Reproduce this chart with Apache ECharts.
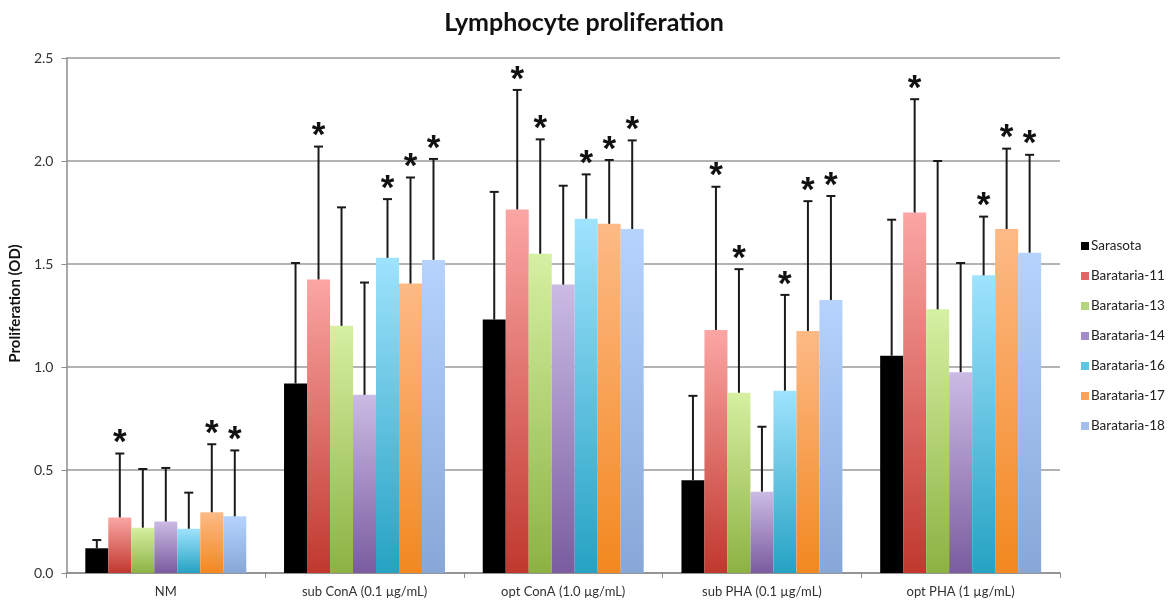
<!DOCTYPE html>
<html>
<head>
<meta charset="utf-8">
<script src="https://cdn.jsdelivr.net/npm/echarts@6/dist/echarts.min.js"></script>
<style>html,body{margin:0;padding:0;background:#fff;}#c{width:1168px;height:601px;}</style>
</head>
<body>
<div id="c"></div>
<script>
const categories = ['NM', 'sub ConA (0.1 µg/mL)', 'opt ConA (1.0 µg/mL)', 'sub PHA (0.1 µg/mL)', 'opt PHA (1 µg/mL)'];
const seriesNames = ['Sarasota', 'Barataria-11', 'Barataria-13', 'Barataria-14', 'Barataria-16', 'Barataria-17', 'Barataria-18'];

const sarasota    = [0.12, 0.92, 1.23, 0.45, 1.055];
const barataria11 = [0.27, 1.425, 1.765, 1.18, 1.75];
const barataria13 = [0.22, 1.20, 1.55, 0.875, 1.28];
const barataria14 = [0.25, 0.865, 1.40, 0.395, 0.975];
const barataria16 = [0.215, 1.53, 1.72, 0.885, 1.445];
const barataria17 = [0.295, 1.405, 1.695, 1.175, 1.67];
const barataria18 = [0.275, 1.52, 1.67, 1.325, 1.555];

const errSarasota    = [0.16, 1.505, 1.85, 0.86, 1.715];
const err11 = [0.58, 2.07, 2.345, 1.875, 2.30];
const err13 = [0.505, 1.775, 2.105, 1.475, 2.00];
const err14 = [0.51, 1.41, 1.88, 0.71, 1.505];
const err16 = [0.39, 1.815, 1.935, 1.35, 1.73];
const err17 = [0.625, 1.92, 2.005, 1.805, 2.06];
const err18 = [0.595, 2.01, 2.10, 1.83, 2.03];

const sigSarasota = [0, 0, 0, 0, 0];
const sig11 = [1, 1, 1, 1, 1];
const sig13 = [0, 0, 1, 1, 0];
const sig14 = [0, 0, 0, 0, 0];
const sig16 = [0, 1, 1, 1, 1];
const sig17 = [1, 1, 1, 1, 1];
const sig18 = [1, 1, 1, 1, 1];

const yTicks = [0, 0.5, 1.0, 1.5, 2.0, 2.5];

const values = [sarasota, barataria11, barataria13, barataria14, barataria16, barataria17, barataria18];
const errs = [errSarasota, err11, err13, err14, err16, err17, err18];
const sigs = [sigSarasota, sig11, sig13, sig14, sig16, sig17, sig18];

const topColors = ['#000000', '#fba6a4', '#d5f0a2', '#cbbbe4', '#9fe3fd', '#fdba86', '#b6d3fe'];
const botColors = ['#000000', '#c0382e', '#8db243', '#7a5c9f', '#26a2c3', '#f28820', '#87a7d8'];
const legendColors = ['#000000', '#e06666', '#b3d67a', '#a58ac8', '#5ec5e4', '#f9a35e', '#a2bfee'];

const GAP = 0.19;
const N = seriesNames.length;
const FONT = 'Lato, "Open Sans", sans-serif';

const series = [];
seriesNames.forEach((name, k) => {
  series.push({
    name: name,
    type: 'bar',
    data: values[k],
    barGap: '0%',
    barCategoryGap: (GAP * 100) + '%',
    itemStyle: {
      color: k === 0 ? '#000' : new echarts.graphic.LinearGradient(0, 0, 0, 1, [
        { offset: 0, color: topColors[k] },
        { offset: 1, color: botColors[k] }
      ])
    },
    emphasis: { disabled: true }
  });
});
seriesNames.forEach((name, k) => {
  series.push({
    name: name + '-err',
    type: 'custom',
    z: 5,
    data: categories.map((c, i) => [i, values[k][i], errs[k][i], sigs[k][i]]),
    renderItem: function (params, api) {
      const ci = api.value(0), v = api.value(1), e = api.value(2), s = api.value(3);
      const band = api.size([1, 0])[0];
      const groupW = band * (1 - GAP);
      const bw = groupW / N;
      const base = api.coord([ci, v]);
      const cx = base[0] - groupW / 2 + (k + 0.5) * bw;
      const yb = base[1];
      const ye = api.coord([ci, e])[1];
      const style = { stroke: '#1a1a1a', lineWidth: 2 };
      const children = [
        { type: 'line', shape: { x1: cx, y1: yb, x2: cx, y2: ye }, style: style },
        { type: 'line', shape: { x1: cx - 4.5, y1: ye, x2: cx + 4.5, y2: ye }, style: style }
      ];
      if (s) {
        children.push({
          type: 'text',
          style: { text: '*', x: cx, y: ye - 10, fontSize: 35, fontWeight: 'bold', fontFamily: 'Liberation Sans, Arial, sans-serif', fill: '#111', align: 'center', verticalAlign: 'middle' }
        });
      }
      return { type: 'group', children: children };
    }
  });
});

const chart = echarts.init(document.getElementById('c'), null, { renderer: 'canvas' });
chart.setOption({
  animation: false,
  backgroundColor: '#fff',
  title: {
    text: 'Lymphocyte proliferation',
    left: 'center',
    top: 5,
    textStyle: { fontFamily: FONT, fontSize: 25, fontWeight: 'bold', color: '#111' }
  },
  legend: {
    orient: 'vertical',
    left: 1076,
    top: 234,
    itemWidth: 8,
    itemHeight: 8,
    itemGap: 16,
    icon: 'rect',
    textStyle: { fontFamily: FONT, fontSize: 13.5, color: '#222', padding: [0, 0, 0, -3] },
    data: seriesNames.map((n, k) => ({ name: n, itemStyle: { color: legendColors[k] } }))
  },
  grid: { left: 65, right: 108, top: 58, bottom: 28, containLabel: false },
  xAxis: {
    type: 'category',
    data: categories,
    axisLine: { lineStyle: { color: '#8c8c8c', width: 1.5 } },
    axisTick: { show: true, alignWithLabel: false, length: 5, lineStyle: { color: '#8c8c8c' } },
    axisLabel: { fontFamily: FONT, fontSize: 13, color: '#333', margin: 12 },
    splitLine: { show: false }
  },
  yAxis: {
    type: 'value',
    min: 0,
    max: 2.5,
    interval: 0.5,
    name: 'Proliferation (OD)',
    nameLocation: 'middle',
    nameGap: 38,
    nameTextStyle: { fontFamily: FONT, fontSize: 15, fontWeight: 'bold', color: '#111', padding: [0, 0, 0, 24] },
    axisLine: { show: true, lineStyle: { color: '#8c8c8c', width: 1.5 } },
    axisTick: { show: true, length: 5, lineStyle: { color: '#8c8c8c' } },
    axisLabel: {
      fontFamily: FONT, fontSize: 14, color: '#333', margin: 13,
      formatter: v => yTicks.includes(v) ? v.toFixed(1) : ''
    },
    splitLine: { show: true, lineStyle: { color: '#9a9a9a', width: 1.5 } }
  },
  series: series
});
</script>
</body>
</html>
